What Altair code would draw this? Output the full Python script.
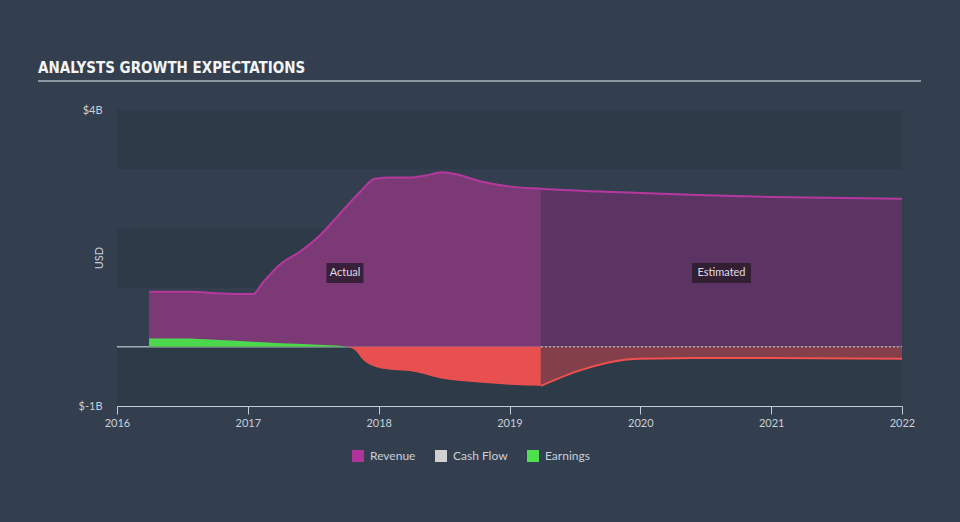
import altair as alt
import pandas as pd

# ---------------- data ----------------
rev_actual_years = [2016.245, 2016.56, 2016.8, 2017.04, 2017.12, 2017.25, 2017.4, 2017.55,
                    2017.7, 2017.86, 2017.97, 2018.1, 2018.24, 2018.35, 2018.49, 2018.6,
                    2018.77, 2019.0, 2019.24]
rev_actual_vals = [0.93, 0.93, 0.90, 0.89, 1.10, 1.40, 1.61, 1.88,
                   2.24, 2.62, 2.84, 2.86, 2.86, 2.89, 2.95, 2.91,
                   2.80, 2.71, 2.67]
rev_est_years = [2019.24, 2020.0, 2020.5, 2021.0, 2022.0]
rev_est_vals = [2.67, 2.60, 2.56, 2.53, 2.50]

earn_actual_years = [2016.245, 2016.5, 2016.75, 2017.0, 2017.25, 2017.5, 2017.68, 2017.76,
                     2017.82, 2017.88, 2017.99, 2018.11, 2018.24, 2018.47, 2018.74,
                     2019.0, 2019.24]
earn_actual_vals = [0.14, 0.14, 0.12, 0.09, 0.06, 0.04, 0.02, 0.0,
                    -0.06, -0.22, -0.35, -0.39, -0.41, -0.53, -0.60,
                    -0.64, -0.66]
earn_est_years = [2019.24, 2019.55, 2019.88, 2020.0, 2020.5, 2021.0, 2022.0]
earn_est_vals = [-0.66, -0.39, -0.22, -0.20, -0.19, -0.19, -0.20]

cash_est_years = [2019.24, 2020.0, 2021.0, 2022.0]
cash_est_vals = [0.0, 0.0, 0.0, 0.0]

series_names = ["Revenue", "Cash Flow", "Earnings"]
series_colors = ["#b0359a", "#d0d0d0", "#4fe04f"]

band_lo = [3, 1, -1]
band_hi = [4, 2, 0]

x_ticks = [2016, 2017, 2018, 2019, 2020, 2021, 2022]
y_ticks = [-1, 4]

TITLE = "ANALYSTS GROWTH EXPECTATIONS"
region_labels = ["Actual", "Estimated"]
region_mid = [(rev_actual_years[0] + rev_actual_years[-1]) / 2,
              (rev_est_years[0] + rev_est_years[-1]) / 2]

# ---------------- frames ----------------
rev_a = pd.DataFrame({"year": rev_actual_years, "v": rev_actual_vals})
rev_e = pd.DataFrame({"year": rev_est_years, "v": rev_est_vals})
rev_all = pd.concat([rev_a, rev_e.iloc[1:]], ignore_index=True)
earn_a = pd.DataFrame({"year": earn_actual_years, "v": earn_actual_vals})
earn_e = pd.DataFrame({"year": earn_est_years, "v": earn_est_vals})
cash_e = pd.DataFrame({"year": cash_est_years, "v": cash_est_vals})
bands = pd.DataFrame({"lo": band_lo, "hi": band_hi})
ann = pd.DataFrame({"label": region_labels, "year": region_mid})
legend_df = pd.DataFrame({"series": series_names})
one = pd.DataFrame({"t": [TITLE]})

W, H = 785, 296
FONT = "Lato"
TXT = "#c8d0d8"

xscale = alt.Scale(domain=[2016, 2022], nice=False, zero=False)
yscale = alt.Scale(domain=[-1, 4], nice=False, zero=False)
xaxis = alt.Axis(values=x_ticks, format="d", title=None, grid=False,
                 domainColor="#c3ccd6", tickColor="#c3ccd6", tickSize=8,
                 labelColor=TXT, labelFontSize=11, labelFont=FONT, labelPadding=3,
                 labelFlush=False)
yaxis = alt.Axis(values=y_ticks, title=None, grid=False, domain=False, ticks=False,
                 labelExpr="'$' + datum.value + 'B'", labelColor=TXT, labelFontSize=11,
                 labelFont=FONT, labelPadding=15)


def X(field="year"):
    return alt.X(f"{field}:Q", scale=xscale, axis=xaxis)


def Y(field="v"):
    return alt.Y(f"{field}:Q", scale=yscale, axis=yaxis)


band_layer = alt.Chart(bands).mark_rect(color="#2d3a48").encode(
    x=alt.value(0), x2=alt.value(W),
    y=Y("hi"), y2=alt.Y2("lo"))

zero_rule = alt.Chart(one).mark_rule(color="#a4adb7", strokeWidth=1.5).encode(
    x=alt.value(0), x2=alt.value(W), y=alt.Y(datum=0, scale=yscale, axis=yaxis))

rev_area_a = alt.Chart(rev_a).mark_area(color="#7b3a75", interpolate="monotone").encode(
    x=X(), y=Y(), y2=alt.Y2(datum=0))
rev_area_e = alt.Chart(rev_e).mark_area(color="#5c3463", interpolate="monotone").encode(
    x=X(), y=Y(), y2=alt.Y2(datum=0))

green = alt.Chart(earn_a).transform_filter("datum.v >= 0").mark_area(
    color="#4cd84c", interpolate="monotone").encode(x=X(), y=Y(), y2=alt.Y2(datum=0))
red_a = alt.Chart(earn_a).transform_filter("datum.v <= 0").mark_area(
    color="#e84f4f", interpolate="monotone").encode(x=X(), y=Y(), y2=alt.Y2(datum=0))
red_e = alt.Chart(earn_e).mark_area(color="#84404a", interpolate="monotone").encode(
    x=X(), y=Y(), y2=alt.Y2(datum=0))
red_line_e = alt.Chart(earn_e).mark_line(color="#f0504f", strokeWidth=2,
                                          interpolate="monotone").encode(x=X(), y=Y())

cash_line = alt.Chart(cash_e).mark_line(color="#d0d0d0", strokeWidth=1.5, opacity=0.7,
                                        strokeDash=[2, 2]).encode(x=X(), y=Y())

rev_line = alt.Chart(rev_all).mark_line(color="#b5389f", strokeWidth=2,
                                        interpolate="monotone").encode(x=X(), y=Y())

box_a = alt.Chart(ann).transform_filter("datum.label == 'Actual'").mark_rect(
    width=37, height=20, color="#2e1c30", opacity=0.85).encode(x=X(), y=alt.value(163))
box_e = alt.Chart(ann).transform_filter("datum.label == 'Estimated'").mark_rect(
    width=59, height=20, color="#2a1c2c", opacity=0.85).encode(x=X(), y=alt.value(163))
ann_text = alt.Chart(ann).mark_text(color="#e0dae2", fontSize=11, font=FONT,
                                    baseline="middle").encode(
    x=X(), y=alt.value(163), text="label:N")

title_text = alt.Chart(one).mark_text(align="left", baseline="middle", fontSize=15,
                                      fontWeight="bold",
                                      font="DejaVu Sans Condensed, Liberation Sans Narrow, Roboto Condensed, sans-serif",
                                      color="#f2f4f6").encode(
    x=alt.value(-79), y=alt.value(-42), text="t:N")
title_rule = alt.Chart(one).mark_rule(color="#8d97a2", strokeWidth=2).encode(
    x=alt.value(-79), x2=alt.value(804), y=alt.value(-29))
usd = alt.Chart(pd.DataFrame({"t": ["USD"]})).mark_text(
    angle=270, fontSize=11, font=FONT, color=TXT, baseline="middle").encode(
    x=alt.value(-17), y=alt.value(148), text="t:N")

legend_layer = alt.Chart(legend_df).mark_square(opacity=0).encode(
    x=alt.value(0), y=alt.value(0),
    color=alt.Color("series:N", scale=alt.Scale(domain=series_names, range=series_colors),
                    sort=series_names,
                    legend=alt.Legend(orient="none", legendX=235, legendY=340,
                                      direction="horizontal", title=None,
                                      symbolType="square", symbolSize=144,
                                      symbolOpacity=1, symbolStrokeWidth=0,
                                      labelColor=TXT, labelFontSize=12, labelFont=FONT,
                                      labelOffset=6, columnPadding=19, padding=0)))

chart = alt.layer(
    band_layer, zero_rule, rev_area_a, rev_area_e, green, red_a, red_e, red_line_e,
    cash_line, rev_line, box_a, box_e, ann_text, title_text, title_rule, usd, legend_layer
).properties(
    width=W, height=H, background="#333f4f",
    padding={"left": 117, "top": 110, "right": 58, "bottom": 116},
    autosize=alt.AutoSizeParams(type="none")
).configure_view(stroke=None)

chart.save("out.html", embed_options={"renderer": "svg", "actions": False})
